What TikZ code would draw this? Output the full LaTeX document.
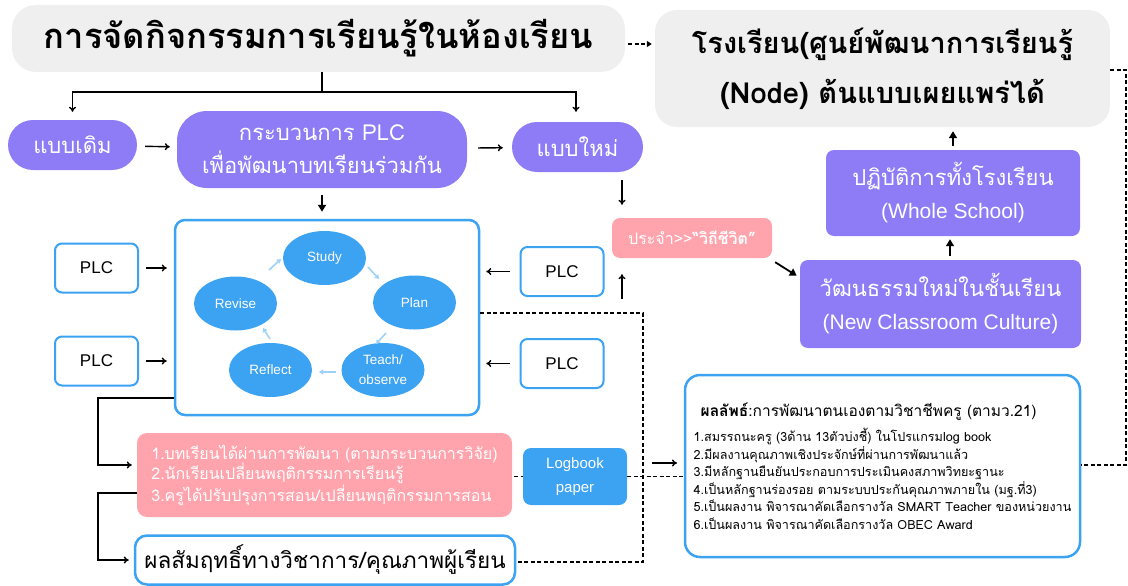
\documentclass[tikz,border=0pt]{standalone}
\usepackage{fontspec}
\setmainfont[Script=Thai]{Loma}
\newfontfamily\lat{Liberation Sans}
\usetikzlibrary{arrows.meta,shapes.geometric,calc}
\definecolor{pur}{HTML}{8E7BF6}
\definecolor{gbox}{HTML}{EFEFEF}
\definecolor{blu}{HTML}{3CA2F2}
\definecolor{pnk}{HTML}{FFA3AD}
\definecolor{lblu}{HTML}{9FD2F9}
\newcommand\fsz[2]{\fontsize{#1}{#2}\selectfont}
\begin{document}
\begin{tikzpicture}[x=1pt,y=-1pt,
  graybox/.style={fill=gbox,rounded corners=24pt,inner sep=0pt,align=center},
  purpill/.style={fill=pur,text=white,inner sep=0pt,align=center,font=\fsz{22}{33}},
  purbox/.style={fill=pur,text=white,rounded corners=8pt,inner sep=0pt,align=center,font=\fsz{22}{33}},
  plcbox/.style={draw=blu,line width=2pt,rounded corners=7pt,fill=white,inner sep=0pt,
     minimum width=83pt,minimum height=49pt,font=\lat\fsz{17}{20}},
  ell/.style={ellipse,fill=blu,text=white,inner sep=0pt,minimum width=83pt,minimum height=54pt,
     align=center,font=\lat\fsz{13.5}{20}},
  arr/.style={-{To[length=5pt,width=7pt]},line width=1.4pt},
  tarr/.style={-{Triangle[length=7pt,width=8pt]},line width=1.8pt},
  larr/.style={-{Triangle[length=4pt,width=5pt]},line width=1.6pt,draw=lblu},
  line/.style={line width=1.4pt},
  dsh/.style={line width=1.4pt,dash pattern=on 4pt off 2.5pt}]
\useasboundingbox (0,0) rectangle (1128,586);
% top boxes
\node[graybox,minimum width=613pt,minimum height=67pt,font=\fsz{34.5}{40}\bfseries] (title) at (318.5,38.5)
  {การจัดกิจกรรมการเรียนรู้ในห้องเรียน};
\node[graybox,rounded corners=22pt,minimum width=455pt,minimum height=117pt,font=\fsz{29}{50}\bfseries] (school) at (882.5,68.5)
  {โรงเรียน(ศูนย์พัฒนาการเรียนรู้\\(Node) ต้นแบบเผยแพร่ได้};
\node[purpill,rounded corners=25pt,minimum width=129pt,minimum height=50pt] (old) at (72.5,145) {แบบเดิม};
\node[purpill,rounded corners=30pt,minimum width=290pt,minimum height=77pt] (proc) at (322,149.5)
  {กระบวนการ PLC\\เพื่อพัฒนาบทเรียนร่วมกัน};
\node[purpill,rounded corners=25pt,minimum width=131pt,minimum height=50pt] (new) at (577.5,147) {แบบใหม่};
% main cycle box
\node[draw=blu,line width=2.5pt,rounded corners=10pt,fill=white,minimum width=304pt,minimum height=195pt] (main) at (327,317.5) {};
\node[ell] (study) at (324.5,258) {Study};
\node[ell] (plan) at (414.5,302.5) {Plan};
\node[ell] (teach) at (383,370) {Teach/\\observe};
\node[ell] (reflect) at (270.5,370) {Reflect};
\node[ell] (revise) at (235.5,303.5) {Revise};
\draw[larr] (368,267) -- (379,279);
\draw[larr] (386,333) -- (376,344);
\draw[larr] (336,372) -- (319,372);
\draw[larr] (270,339) -- (263,328);
\draw[larr] (269,270) -- (281,259);
% PLC boxes
\node[plcbox] (p1) at (96.5,268) {PLC};
\node[plcbox] (p2) at (96.5,361) {PLC};
\node[plcbox] (p3) at (562,271.5) {PLC};
\node[plcbox] (p4) at (562,363.5) {PLC};
\draw[arr,shorten <=7pt,shorten >=7pt] (p1.east) -- (p1.east -| main.west);
\draw[arr,shorten <=7pt,shorten >=7pt] (p2.east) -- (p2.east -| main.west);
\draw[arr,shorten <=10pt,shorten >=6pt] (p3.west) -- (p3.west -| main.east);
\draw[arr,shorten <=10pt,shorten >=6pt] (p4.west) -- (p4.west -| main.east);
% right side
\node[fill=pnk,text=white,rounded corners=8pt,inner sep=0pt,minimum width=160pt,minimum height=40pt,font=\fsz{16}{20}] (routine) at (692,238)
  {ประจำ{>}{>}\textbf{“วิถีชีวิต”}};
\node[purbox,minimum width=281pt,minimum height=88pt] (culture) at (940.5,304)
  {วัฒนธรรมใหม่ในชั้นเรียน\\{\lat\fsz{21}{33}(New Classroom Culture)}};
\node[purbox,minimum width=254pt,minimum height=86pt] (whole) at (953,193)
  {ปฏิบัติการทั้งโรงเรียน\\{\lat\fsz{21}{33}(Whole School)}};
% bottom
\node[draw=blu,line width=2.5pt,rounded corners=15pt,fill=white,minimum width=395pt,minimum height=182pt,
  align=left,inner sep=0pt,font=\fsz{12.6}{17.5}] (result) at (882.5,466)
  {\hspace*{7pt}{\fsz{15.5}{20}\textbf{ผลลัพธ์}:การพัฒนาตนเองตามวิชาชีพครู (ตามว.21)}\\[8pt]
   1.สมรรถนะครู (3ด้าน 13ตัวบ่งชี้) ในโปรแกรมlog book\\
   2.มีผลงานคุณภาพเชิงประจักษ์ที่ผ่านการพัฒนาแล้ว\\
   3.มีหลักฐานยืนยันประกอบการประเมินคงสภาพวิทยะฐานะ\\
   4.เป็นหลักฐานร่องรอย ตามระบบประกันคุณภาพภายใน (มฐ.ที่3)\\
   5.เป็นผลงาน พิจารณาคัดเลือกรางวัล SMART Teacher ของหน่วยงาน\\
   6.เป็นผลงาน พิจารณาคัดเลือกรางวัล OBEC Award};
\node[fill=pnk,text=white,rounded corners=10pt,inner sep=0pt,minimum width=375pt,minimum height=84pt,
  align=left,font=\fsz{16}{20.5}] (pinkres) at (324.5,475)
  {1.บทเรียนได้ผ่านการพัฒนา (ตามกระบวนการวิจัย)\\
   2.นักเรียนเปลี่ยนพฤติกรรมการเรียนรู้\\
   3.ครูได้ปรับปรุงการสอน/เปลี่ยนพฤติกรรมการสอน};
\node[fill=blu,text=white,rounded corners=8pt,inner sep=0pt,minimum width=104pt,minimum height=57pt,
  align=center,font=\lat\fsz{15}{24}] (logbook) at (575,476.5) {Logbook\\paper};
\node[draw=blu,line width=2.5pt,rounded corners=12pt,fill=white,minimum width=380pt,minimum height=49pt,
  inner sep=0pt,font=\fsz{22.5}{30}] (achieve) at (325,560) {ผลสัมฤทธิ์ทางวิชาการ/คุณภาพผู้เรียน};
% connectors top
\coordinate (tj) at (322,92);
\draw[line] (title.south -| tj) -- (tj);
\draw[arr,shorten >=8pt] (tj) -| (old.north);
\draw[arr,shorten >=10pt] (tj) -| (new.north -| 576,0);
\draw[arr,shorten <=8pt,shorten >=7pt] (old) -- (proc);
\draw[arr,shorten <=11pt,shorten >=9pt] (proc) -- (new);
\draw[tarr,shorten <=7pt,shorten >=7pt] (proc.south) -- (main.north -| proc.south);
\draw[dsh,-{Triangle[length=5pt,width=6pt]},shorten <=3pt,shorten >=3pt] (title.east |- 0,44) -- (school.west |- 0,44);
\coordinate (ax) at (622,0);
\draw[arr,shorten <=8pt,shorten >=13pt] (new.south -| ax) -- (routine.north -| ax);
\draw[arr,shorten >=16pt] (ax |- 0,299) -- (routine.south -| ax);
\draw[tarr] ($(routine.south east)+(3,4)$) -- ($(culture.north west)+(-3,16)$);
\draw[tarr,line width=1.6pt,shorten <=4pt,shorten >=3pt] (culture.north -| 950,0) -- (whole.south -| 950,0);
\draw[tarr,line width=1.6pt,shorten <=4pt,shorten >=4pt] (whole.north -| 953,0) -- (school.south -| 953,0);
% left elbows
\coordinate (lx) at (98,0);
\draw[line] (main.west |- 0,398) -- (lx |- 0,398);
\draw[arr,shorten >=5pt] (lx |- 0,397.3) -- (lx |- 0,465) -- (pinkres.west |- 0,465);
\draw[line] (pinkres.west |- 0,493) -- (lx |- 0,493);
\draw[arr,shorten >=5pt] (lx |- 0,492.3) -- (lx |- achieve.west) -- (achieve.west);
% dashed
\coordinate (dx) at (643,0);
\draw[dsh] (main.east |- 0,313) -- (dx |- 0,313) -- (dx |- 0,562) -- (achieve.east |- 0,562);
\draw[dsh,shorten <=2pt] (pinkres.east |- logbook) -- (logbook.west);
\draw[dsh] (logbook.east) -- (result.west |- logbook);
\draw[arr] (652,463) -- (677,463);
\draw[dsh] (school.east |- 0,70) -- (1126,70) -- (1126,465) -- (result.east |- 0,465);
\end{tikzpicture}
\end{document}
